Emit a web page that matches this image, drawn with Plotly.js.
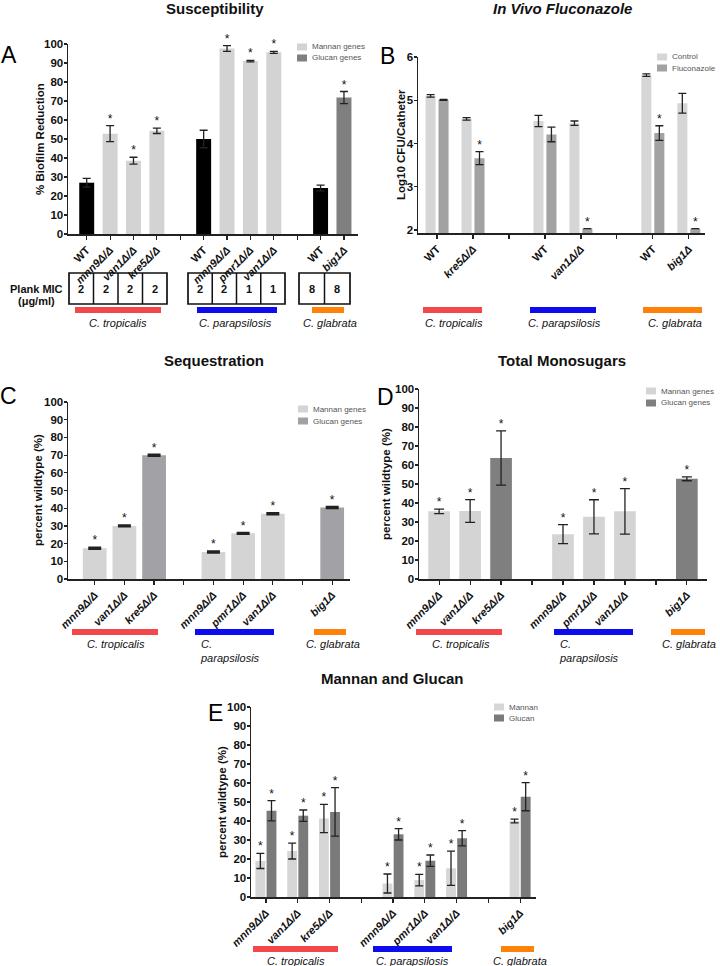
<!DOCTYPE html>
<html>
<head>
<meta charset="utf-8">
<script src="https://cdn.plot.ly/plotly-3.0.1.min.js"></script>
<style>
  body { margin: 0; background: #fff; }
  #fig { width: 720px; height: 966px; }
</style>
</head>
<body>
<div id="fig"></div>
<script>
// A - Susceptibility (% biofilm reduction)
const suscLabels = ['WT', 'mnn9Δ/Δ', 'van1Δ/Δ', 'kre5Δ/Δ', 'WT', 'mnn9Δ/Δ', 'pmr1Δ/Δ', 'van1Δ/Δ', 'WT', 'big1Δ'];
const suscGroup = [0, 0, 0, 0, 1, 1, 1, 1, 2, 2];
const suscKind = ['wt', 'mannan', 'mannan', 'mannan', 'wt', 'mannan', 'mannan', 'mannan', 'wt', 'glucan'];
const suscValues = [27, 52.8, 38.6, 54.3, 50, 97.6, 91, 95.6, 24.2, 71.8];
const suscErr = [2.3, 4.2, 1.8, 1.4, 4.6, 1.5, 0.4, 0.5, 1.5, 3.2];
const suscStar = [0, 1, 1, 1, 0, 1, 1, 1, 0, 1];
const plankMic = [2, 2, 2, 2, 2, 2, 1, 1, 8, 8];

// B - In vivo fluconazole (log10 CFU/catheter)
const vivoLabels = ['WT', 'kre5Δ/Δ', 'WT', 'van1Δ/Δ', 'WT', 'big1Δ'];
const vivoGroup = [0, 0, 1, 1, 2, 2];
const controlValues = [5.1, 4.57, 4.52, 4.47, 5.58, 4.93];
const controlErr = [0.03, 0.03, 0.13, 0.05, 0.03, 0.23];
const flucoValues = [5.01, 3.66, 4.21, 2.03, 4.24, 2.03];
const flucoErr = [0.01, 0.15, 0.17, 0, 0.17, 0];
const flucoStar = [0, 1, 0, 1, 1, 1];

// C - Sequestration (percent wildtype)
const mutantLabels = ['mnn9Δ/Δ', 'van1Δ/Δ', 'kre5Δ/Δ', 'mnn9Δ/Δ', 'pmr1Δ/Δ', 'van1Δ/Δ', 'big1Δ'];
const mutantGroup = [0, 0, 0, 1, 1, 1, 2];
const mutantKind = ['mannan', 'mannan', 'glucan', 'mannan', 'mannan', 'mannan', 'glucan'];
const seqValues = [17.4, 30, 69.9, 15.3, 25.8, 36.9, 40.4];
const seqErr = [0.4, 0.4, 0.4, 0.4, 0.4, 0.4, 0.4];

// D - Total monosugars (percent wildtype)
const monoValues = [35.6, 35.8, 63.7, 23.6, 32.7, 35.6, 52.7];
const monoErr = [1.2, 6, 14.3, 5, 9, 12, 1];

// E - Mannan and glucan (percent wildtype)
const mgLabels = ['mnn9Δ/Δ', 'van1Δ/Δ', 'kre5Δ/Δ', 'mnn9Δ/Δ', 'pmr1Δ/Δ', 'van1Δ/Δ', 'big1Δ'];
const mgGroup = [0, 0, 0, 1, 1, 1, 2];
const mannanValues = [19, 24.2, 41.3, 7.1, 8.9, 15.1, 40];
const mannanErr = [4, 4.2, 7.4, 5, 3, 9, 1];
const glucanValues = [45.4, 42.8, 44.8, 33, 19.1, 30.9, 52.8];
const glucanErr = [5.3, 3, 12.8, 3, 3, 4, 7.4];

const speciesNames = ['C. tropicalis', 'C. parapsilosis', 'C. glabrata'];
const speciesColors = ['#f2474b', '#0c0cee', '#ff8208'];

const FONT = 'Liberation Sans, Arial, Helvetica, sans-serif';
const W = 720, H = 966;
const px = x => x / W;
const py = y => 1 - y / H;

// one empty slot between strain groups
const slots = group => group.map((g, i) => i + g);
function gapSlots(group) {
  const out = [];
  for (let i = 1; i < group.length; i++) {
    if (group[i] !== group[i - 1]) out.push(i + group[i - 1]);
  }
  return out;
}
const geneText = s => s === 'WT' ? 'WT' : '<i>' + s + '</i>';

function xAxis(x0, x1, range, group, labels, anchor) {
  const gaps = gapSlots(group);
  return {
    domain: [px(x0), px(x1)], range: range, anchor: anchor,
    showgrid: false, zeroline: false, showline: true, linecolor: '#222', linewidth: 1.5,
    ticks: 'outside', ticklen: 4, tickwidth: 1.2, tickcolor: '#222',
    tickmode: 'array', tickvals: slots(group).concat(gaps),
    ticktext: labels.map(geneText).concat(gaps.map(() => '')),
    tickangle: -45, tickfont: {family: FONT, size: 11, color: '#111', weight: 'bold'},
    fixedrange: true
  };
}
function yAxis(yTop, yBottom, range, dtick, anchor) {
  return {
    domain: [py(yBottom), py(yTop)], range: range, anchor: anchor, dtick: dtick,
    showgrid: false, zeroline: false, showline: true, linecolor: '#222', linewidth: 1.5,
    ticks: 'outside', ticklen: 3, tickwidth: 1.2, tickcolor: '#222', ticklabelstandoff: -2,
    tickfont: {family: FONT, size: 11.5, color: '#111', weight: 'bold'},
    fixedrange: true
  };
}

function errBar(arr, cap, thick) {
  return {type: 'data', array: arr, visible: true, color: '#222', thickness: thick || 1.3, width: cap};
}
function stars(xs, tops, flags, xa, ya) {
  const x = [], y = [];
  flags.forEach((f, i) => { if (f) { x.push(xs[i]); y.push(tops[i]); } });
  return {
    type: 'scatter', mode: 'text', x: x, y: y, text: x.map(() => '*'),
    textposition: 'top center', textfont: {family: FONT, size: 12, color: '#111'},
    cliponaxis: false, xaxis: xa, yaxis: ya, hoverinfo: 'skip'
  };
}
const add = (a, b) => a.map((v, i) => v + b[i]);
const shift = (a, d) => a.map(v => v + d);

const traces = [];

// Panel A
const aKindColor = {wt: '#000000', mannan: '#d3d3d3', glucan: '#7f7f7f'};
const aPos = slots(suscGroup);
traces.push({
  type: 'bar', x: aPos, y: suscValues, width: 0.64,
  marker: {color: suscKind.map(k => aKindColor[k])},
  error_y: errBar(suscErr, 4), xaxis: 'x', yaxis: 'y'
});
traces.push(stars(aPos, add(suscValues, suscErr), suscStar, 'x', 'y'));

// Panel B
const bPos = slots(vivoGroup);
traces.push({
  type: 'bar', x: bPos, y: controlValues, width: 0.28, offset: -0.32,
  marker: {color: '#d6d6d6'}, error_y: errBar(controlErr, 4), xaxis: 'x2', yaxis: 'y2'
});
traces.push({
  type: 'bar', x: bPos, y: flucoValues, width: 0.28, offset: 0.04,
  marker: {color: '#a2a2a2'}, error_y: errBar(flucoErr, 4), xaxis: 'x2', yaxis: 'y2'
});
traces.push(stars(shift(bPos, 0.18), add(flucoValues, flucoErr), flucoStar, 'x2', 'y2'));

// Panel C
const cPos = slots(mutantGroup);
const cKindColor = {mannan: '#d4d4d4', glucan: '#a2a2a6'};
traces.push({
  type: 'bar', x: cPos, y: seqValues, width: 0.8,
  marker: {color: mutantKind.map(k => cKindColor[k])},
  error_y: errBar(seqErr, 6.5, 2), xaxis: 'x3', yaxis: 'y3'
});
traces.push(stars(cPos, add(seqValues, seqErr), seqValues.map(() => 1), 'x3', 'y3'));

// Panel D
const dKindColor = {mannan: '#d4d4d4', glucan: '#7f7f7f'};
traces.push({
  type: 'bar', x: cPos, y: monoValues, width: 0.7,
  marker: {color: mutantKind.map(k => dKindColor[k])},
  error_y: errBar(monoErr, 5), xaxis: 'x4', yaxis: 'y4'
});
traces.push(stars(cPos, add(monoValues, monoErr), monoValues.map(() => 1), 'x4', 'y4'));

// Panel E
const ePos = slots(mgGroup);
traces.push({
  type: 'bar', x: ePos, y: mannanValues, width: 0.31, offset: -0.33,
  marker: {color: '#d6d6d6'}, error_y: errBar(mannanErr, 4), xaxis: 'x5', yaxis: 'y5'
});
traces.push({
  type: 'bar', x: ePos, y: glucanValues, width: 0.31, offset: 0.02,
  marker: {color: '#7a7a7a'}, error_y: errBar(glucanErr, 4), xaxis: 'x5', yaxis: 'y5'
});
traces.push(stars(shift(ePos, -0.175), add(mannanValues, mannanErr), mannanValues.map(() => 1), 'x5', 'y5'));
traces.push(stars(shift(ePos, 0.175), add(glucanValues, glucanErr), glucanValues.map(() => 1), 'x5', 'y5'));

// ---- text, legends and species bars ----
const annotations = [];
const shapes = [];

function text(x, y, t, font, extra) {
  annotations.push(Object.assign({
    xref: 'paper', yref: 'paper', x: px(x), y: py(y), text: t, showarrow: false,
    xanchor: 'center', yanchor: 'middle', font: Object.assign({family: FONT, color: '#111'}, font)
  }, extra || {}));
}
function rect(x0, y0, x1, y1, fill, line) {
  shapes.push({
    type: 'rect', xref: 'paper', yref: 'paper', x0: px(x0), x1: px(x1), y0: py(y1), y1: py(y0),
    fillcolor: fill, line: line || {width: 0}
  });
}
function legend(x, y, step, entries) {
  entries.forEach((e, i) => {
    rect(x, y + i * step - 3.5, x + 10, y + i * step + 3.5, e[1]);
    text(x + 13, y + i * step, e[0], {size: 8, color: '#555'}, {xanchor: 'left'});
  });
}
function speciesRow(yBar, yText, spans, splitPara) {
  spans.forEach((s, i) => {
    rect(s[0], yBar - 3, s[1], yBar + 3, speciesColors[i]);
    if (i === 1 && splitPara) {
      text(s[0] + 3, yText + 7, 'C.<br>parapsilosis', {size: 11, style: 'italic'}, {xanchor: 'left', align: 'left'});
    } else {
      text(s[2], yText, speciesNames[i], {size: 11, style: 'italic'});
    }
  });
}

const titleFont = {size: 15, weight: 'bold'};
text(215, 8, 'Susceptibility', titleFont);
text(562, 8, 'In Vivo Fluconazole', Object.assign({style: 'italic'}, titleFont));
text(214, 360, 'Sequestration', titleFont);
text(562, 360, 'Total Monosugars', titleFont);
text(393, 678, 'Mannan and Glucan', titleFont);

const letterFont = {size: 23, color: '#000'};
text(9, 55, 'A', letterFont);
text(387, 56, 'B', letterFont);
text(8, 396, 'C', letterFont);
text(385, 397, 'D', letterFont);
text(215, 713, 'E', letterFont);

const yTitleFont = {size: 11.5, weight: 'bold'};
text(40, 139, '% Biofilm Reduction', yTitleFont, {textangle: -90});
text(401, 145, 'Log10 CFU/Catheter', yTitleFont, {textangle: -90});
text(38, 490, 'percent wildtype (%)', yTitleFont, {textangle: -90});
text(386, 484, 'percent wildtype (%)', yTitleFont, {textangle: -90});
text(222, 802, 'percent wildtype (%)', yTitleFont, {textangle: -90});

legend(297, 47, 11, [['Mannan genes', '#d3d3d3'], ['Glucan genes', '#7f7f7f']]);
legend(657, 57, 11, [['Control', '#d6d6d6'], ['Fluconazole', '#a2a2a2']]);
legend(298, 409, 12, [['Mannan genes', '#d4d4d4'], ['Glucan genes', '#a2a2a6']]);
legend(646, 391, 12, [['Mannan genes', '#d4d4d4'], ['Glucan genes', '#7f7f7f']]);
legend(494, 707, 11, [['Mannan', '#d6d6d6'], ['Glucan', '#7a7a7a']]);

// MIC table under panel A
text(36, 289, 'Plank MIC', {size: 11, weight: 'bold'});
text(36, 301, '(μg/ml)', {size: 11, weight: 'bold'});
const micBoxes = [[69, 4, 24.5], [188, 4, 24.25], [299, 2, 25.5]];
let m = 0;
micBoxes.forEach(b => {
  const [left, n, w] = b;
  rect(left, 273, left + n * w, 304, 'rgba(0,0,0,0)', {color: '#111', width: 1.7});
  for (let k = 0; k < n; k++) {
    if (k > 0) {
      shapes.push({type: 'line', xref: 'paper', yref: 'paper', x0: px(left + k * w), x1: px(left + k * w),
        y0: py(273), y1: py(304), line: {color: '#111', width: 1.5}});
    }
    text(left + (k + 0.5) * w, 289, String(plankMic[m++]), {size: 11, weight: 'bold'});
  }
});

speciesRow(310, 323, [[75, 161, 118], [197, 277, 235], [312, 344, 330]]);
speciesRow(310, 323, [[423, 482, 454], [530, 596, 564], [643, 702, 675]]);
speciesRow(632, 644, [[72, 158, 116], [195, 274], [314, 346, 333]], true);
speciesRow(632, 644, [[416, 502, 461], [554, 633], [671, 705, 689]], true);
speciesRow(949, 961, [[253, 338, 296], [373, 452, 412], [501, 534, 520]]);

const layout = {
  width: W, height: H, margin: {l: 0, r: 0, t: 0, b: 0},
  paper_bgcolor: '#fff', plot_bgcolor: 'rgba(0,0,0,0)',
  showlegend: false, hovermode: false, barmode: 'overlay',
  font: {family: FONT, color: '#111'},
  xaxis: xAxis(68, 358, [-0.8, 11.6], suscGroup, suscLabels, 'y'),
  yaxis: yAxis(44, 234, [0, 100], 10, 'x'),
  xaxis2: xAxis(418, 705, [-0.53, 7.45], vivoGroup, vivoLabels, 'y2'),
  yaxis2: yAxis(57, 233, [1.93, 6], 1, 'x2'),
  xaxis3: xAxis(68, 350, [-0.9, 8.6], mutantGroup, mutantLabels, 'y3'),
  yaxis3: yAxis(402, 579, [0, 100], 10, 'x3'),
  xaxis4: xAxis(419, 707, [-0.65, 8.65], mutantGroup, mutantLabels, 'y4'),
  yaxis4: yAxis(389, 579, [0, 100], 10, 'x4'),
  xaxis5: xAxis(251, 536, [-0.47, 8.5], mgGroup, mgLabels, 'y5'),
  yaxis5: yAxis(707, 897, [0, 100], 10, 'x5'),
  annotations: annotations,
  shapes: shapes
};

Plotly.newPlot('fig', traces, layout, {displayModeBar: false, staticPlot: true});
</script>
</body>
</html>
